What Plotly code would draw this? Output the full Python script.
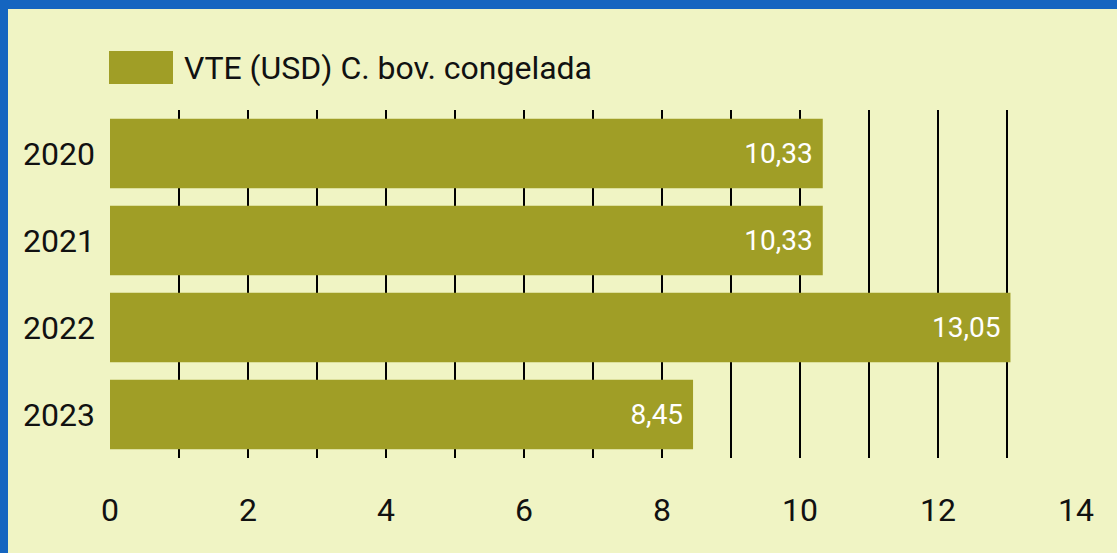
import plotly.graph_objects as go

years = ["2020", "2021", "2022", "2023"]
values = [10.33, 10.33, 13.05, 8.45]
value_labels = ["10,33", "10,33", "13,05", "8,45"]
x_tick_vals = [0, 2, 4, 6, 8, 10, 12, 14]
series_name = "VTE (USD) C. bov. congelada"

BG = "#F0F4C4"
BAR = "#A09E26"
BLUE = "#1565C0"
FONT = "Roboto"

W, H = 1117, 553
L, R, T, B = 110, 41, 110, 95
pw, ph = W - L - R, H - T - B

def px_x(px):
    return (px - L) / pw

def px_y(py):
    return (H - B - py) / ph

fig = go.Figure()
fig.add_trace(go.Bar(
    y=years, x=values, orientation="h",
    marker=dict(color=BAR, line=dict(width=0)),
    text=[t + "\u00a0" for t in value_labels],
    textposition="inside", insidetextanchor="end",
    textfont=dict(family=FONT, size=28, color="white"),
    width=0.8, showlegend=False, name=series_name,
))

shapes = [
    dict(type="rect", xref="paper", yref="paper",
         x0=px_x(109), x1=px_x(173), y0=px_y(84), y1=px_y(51),
         fillcolor=BAR, line=dict(width=0)),
    dict(type="rect", xref="paper", yref="paper",
         x0=px_x(0), x1=px_x(W), y0=px_y(9), y1=px_y(0),
         fillcolor=BLUE, line=dict(width=0)),
    dict(type="rect", xref="paper", yref="paper",
         x0=px_x(0), x1=px_x(8), y0=px_y(H), y1=px_y(0),
         fillcolor=BLUE, line=dict(width=0)),
]

annotations = [
    dict(xref="paper", yref="paper", x=px_x(182), y=px_y(68),
         xanchor="left", yanchor="middle", text=series_name, showarrow=False,
         font=dict(family=FONT, size=32, color="#111111")),
]

fig.update_layout(
    width=W, height=H,
    margin=dict(l=L, r=R, t=T, b=B, pad=0),
    paper_bgcolor=BG, plot_bgcolor=BG,
    font=dict(family=FONT, size=32, color="#111111"),
    bargap=0.2,
    shapes=shapes, annotations=annotations,
    xaxis=dict(
        range=[0, 14], tickvals=x_tick_vals, ticktext=[str(v) for v in x_tick_vals],
        showgrid=True, gridcolor="black", gridwidth=2,
        minor=dict(dtick=1, showgrid=True, gridcolor="black", gridwidth=2),
        zeroline=False, showline=False, ticks="", ticklabelstandoff=30,
        tickfont=dict(family=FONT, size=32, color="#111111"),
    ),
    yaxis=dict(
        categoryorder="array", categoryarray=years, autorange="reversed",
        showgrid=False, zeroline=False, showline=False, ticks="",
        ticklabelstandoff=14,
        tickfont=dict(family=FONT, size=32, color="#111111"),
    ),
)

fig.write_html(
    "out.html",
    config={"displayModeBar": False},
    post_script="document.body.style.margin='0';"
                "document.body.style.overflow='hidden';",
)
